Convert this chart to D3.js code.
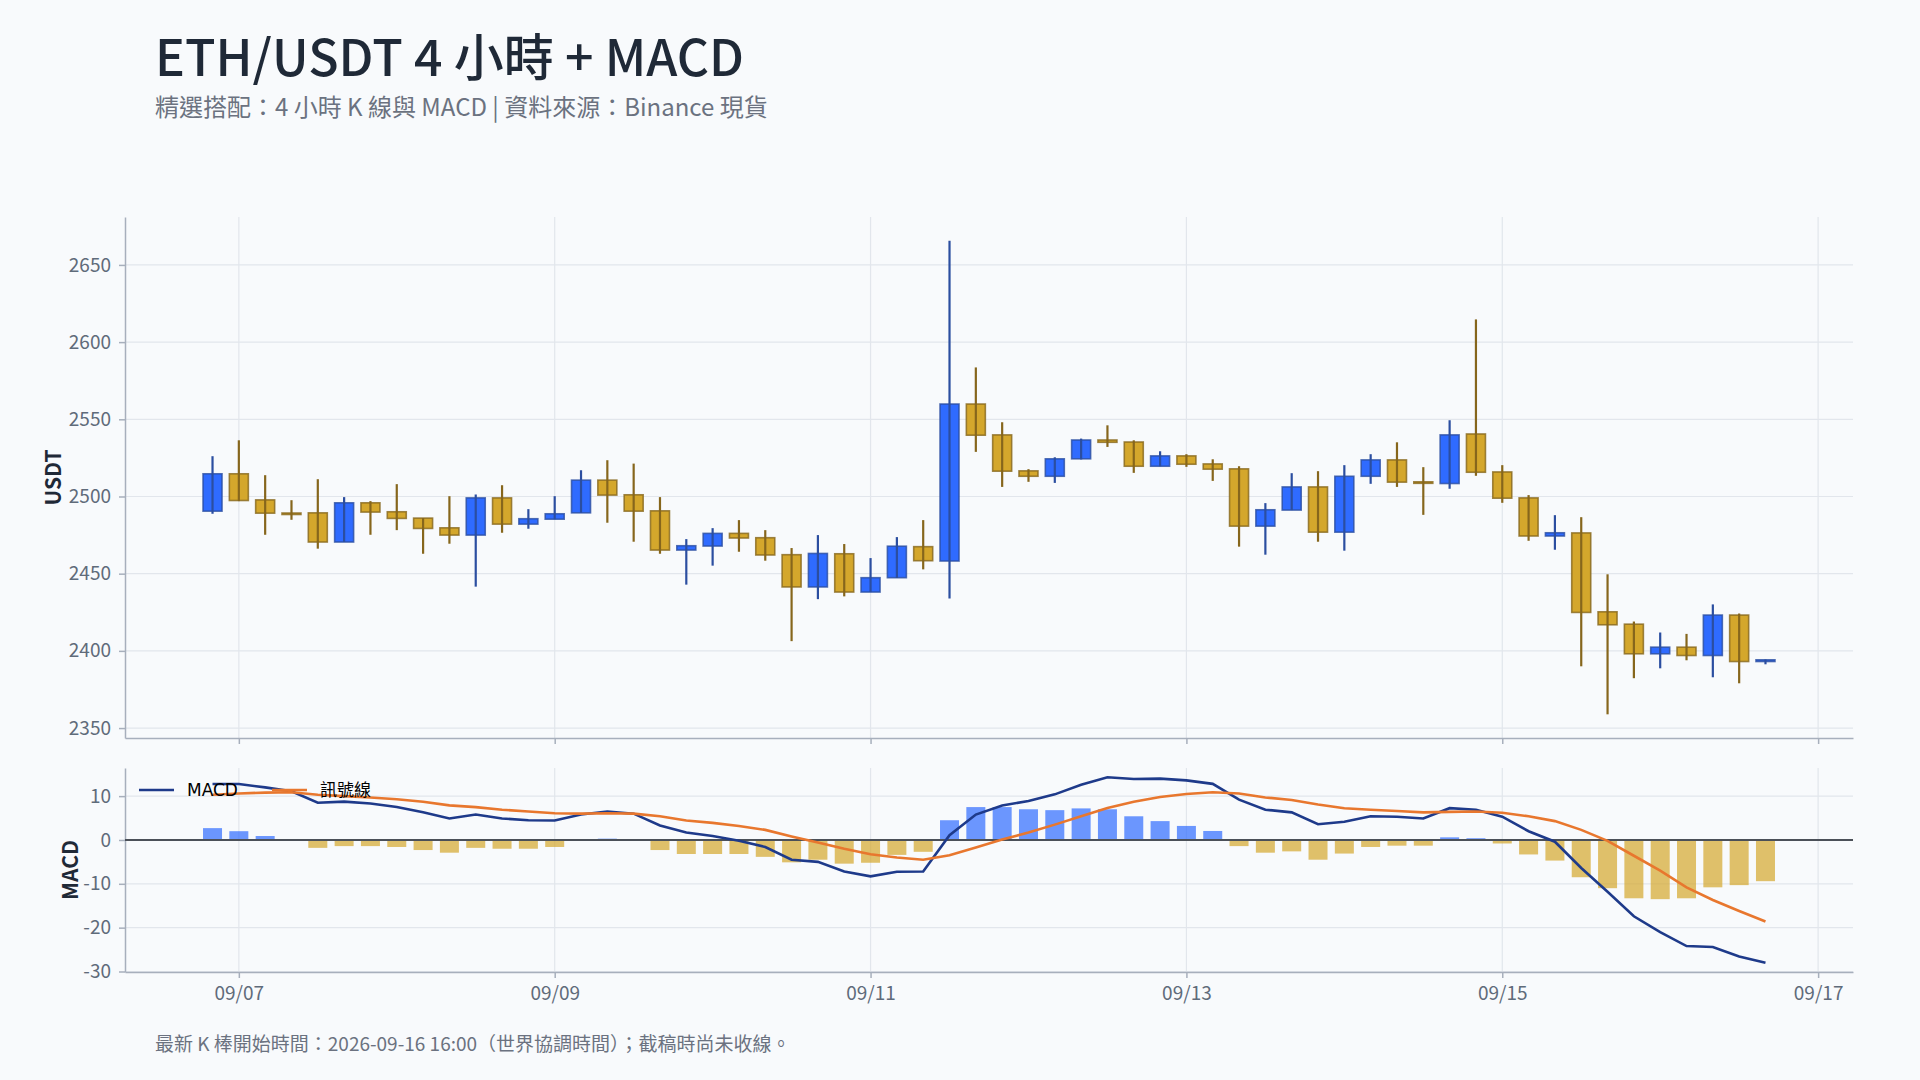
<!DOCTYPE html>
<html><head><meta charset="utf-8">
<script src="https://cdn.jsdelivr.net/npm/d3@7/dist/d3.min.js"></script>
<style>
html,body{margin:0;padding:0;background:#f8fafc;}
svg{display:block;font-family:"Noto Sans CJK TC","Noto Sans",sans-serif;}
</style></head><body>
<svg id="chart" width="1920" height="1080"></svg>
<script>
const times = [
"2026-09-06T20:00Z",
"2026-09-07T00:00Z","2026-09-07T04:00Z","2026-09-07T08:00Z","2026-09-07T12:00Z","2026-09-07T16:00Z","2026-09-07T20:00Z",
"2026-09-08T00:00Z","2026-09-08T04:00Z","2026-09-08T08:00Z","2026-09-08T12:00Z","2026-09-08T16:00Z","2026-09-08T20:00Z",
"2026-09-09T00:00Z","2026-09-09T04:00Z","2026-09-09T08:00Z","2026-09-09T12:00Z","2026-09-09T16:00Z","2026-09-09T20:00Z",
"2026-09-10T00:00Z","2026-09-10T04:00Z","2026-09-10T08:00Z","2026-09-10T12:00Z","2026-09-10T16:00Z","2026-09-10T20:00Z",
"2026-09-11T00:00Z","2026-09-11T04:00Z","2026-09-11T08:00Z","2026-09-11T12:00Z","2026-09-11T16:00Z","2026-09-11T20:00Z",
"2026-09-12T00:00Z","2026-09-12T04:00Z","2026-09-12T08:00Z","2026-09-12T12:00Z","2026-09-12T16:00Z","2026-09-12T20:00Z",
"2026-09-13T00:00Z","2026-09-13T04:00Z","2026-09-13T08:00Z","2026-09-13T12:00Z","2026-09-13T16:00Z","2026-09-13T20:00Z",
"2026-09-14T00:00Z","2026-09-14T04:00Z","2026-09-14T08:00Z","2026-09-14T12:00Z","2026-09-14T16:00Z","2026-09-14T20:00Z",
"2026-09-15T00:00Z","2026-09-15T04:00Z","2026-09-15T08:00Z","2026-09-15T12:00Z","2026-09-15T16:00Z","2026-09-15T20:00Z",
"2026-09-16T00:00Z","2026-09-16T04:00Z","2026-09-16T08:00Z","2026-09-16T12:00Z","2026-09-16T16:00Z"
];
const opens = [2490.5,2514.7,2497.8,2489.3,2489.4,2470.5,2495.9,2490.1,2486.0,2479.7,
2475.0,2499.1,2482.1,2485.3,2489.4,2510.6,2501.1,2490.7,2465.3,2467.9,
2476.1,2473.3,2462.3,2441.4,2462.9,2438.1,2447.4,2467.5,2458.2,2559.9,
2539.9,2516.6,2513.1,2524.4,2536.6,2535.3,2519.6,2526.3,2521.1,2517.9,
2480.8,2491.2,2506.2,2476.9,2513.1,2523.7,2509.5,2508.4,2540.5,2515.9,
2499.1,2474.4,2476.4,2425.3,2417.3,2398.1,2402.4,2397.0,2423.2,2393.1];
const highs = [2526.1,2536.4,2513.8,2497.6,2511.2,2499.6,2497.0,2508.0,2486.0,2500.2,
2501.3,2507.3,2491.8,2500.2,2517.0,2523.5,2521.3,2499.6,2472.4,2479.5,
2484.7,2478.2,2466.6,2475.0,2469.2,2460.1,2473.7,2484.7,2665.7,2583.6,
2548.1,2517.7,2525.4,2537.5,2546.1,2536.4,2529.3,2527.4,2524.1,2519.6,
2495.7,2515.1,2516.4,2520.3,2527.4,2535.1,2519.0,2549.4,2614.7,2520.3,
2500.9,2487.9,2486.6,2449.6,2419.0,2411.9,2411.0,2430.1,2424.2,2394.4];
const lows = [2488.8,2497.0,2475.2,2484.9,2466.2,2470.5,2475.2,2478.2,2462.9,2469.4,
2441.6,2476.5,2479.1,2485.3,2489.4,2483.0,2470.7,2462.9,2442.9,2455.2,
2464.2,2458.4,2406.3,2433.5,2435.3,2438.1,2447.2,2452.8,2434.0,2528.9,
2506.2,2509.5,2508.8,2524.0,2532.1,2515.3,2519.6,2519.2,2510.1,2467.5,
2462.3,2491.2,2470.7,2464.9,2508.2,2506.2,2488.1,2505.0,2513.4,2495.9,
2471.3,2465.5,2390.0,2358.9,2382.3,2388.7,2393.9,2382.9,2379.0,2391.3];
const closes = [2514.7,2497.4,2489.2,2489.0,2470.5,2495.9,2489.9,2485.8,2479.3,2475.0,
2499.1,2482.1,2485.6,2488.8,2510.6,2500.9,2490.5,2465.3,2468.1,2476.1,
2473.1,2462.1,2441.4,2463.1,2438.1,2447.4,2467.8,2458.4,2559.9,2539.7,
2516.4,2513.1,2524.4,2536.6,2535.1,2519.6,2526.3,2520.9,2517.7,2480.8,
2491.4,2506.2,2476.9,2513.1,2523.7,2509.3,2508.7,2539.9,2515.7,2498.9,
2474.4,2476.5,2424.9,2416.9,2398.1,2402.4,2397.0,2423.2,2393.1,2394.2];
const macdLine = [12.75,12.75,12.0,11.1,8.5,8.75,8.3,7.5,6.3,4.9,
5.8,4.9,4.5,4.45,5.8,6.5,6.0,3.3,1.7,0.9,
-0.2,-1.6,-4.5,-5.0,-7.2,-8.3,-7.25,-7.2,1.1,5.8,
7.85,8.9,10.4,12.6,14.3,13.9,14.0,13.6,12.8,9.2,
6.9,6.3,3.6,4.15,5.4,5.3,4.9,7.25,6.9,5.3,
2.0,-0.4,-6.4,-11.8,-17.4,-21.0,-24.2,-24.4,-26.6,-28.0];
const signalLine = [10.3,10.6,10.8,10.9,10.3,10.0,9.7,9.3,8.7,7.9,
7.5,6.9,6.5,6.1,6.0,6.1,6.0,5.4,4.45,3.9,
3.2,2.3,0.8,-0.6,-2.0,-3.25,-4.0,-4.5,-3.5,-1.7,
0.1,1.7,3.5,5.4,7.3,8.7,9.8,10.5,10.9,10.6,
9.7,9.1,8.1,7.25,6.9,6.6,6.3,6.4,6.5,6.2,
5.4,4.3,2.3,-0.2,-3.6,-7.0,-10.8,-13.7,-16.2,-18.6];
const histogram = [2.7,2.0,0.9,0.1,-1.8,-1.4,-1.4,-1.6,-2.3,-2.9,
-1.8,-2.0,-2.0,-1.6,-0.1,0.3,0.0,-2.3,-3.2,-3.2,
-3.2,-3.85,-5.1,-4.5,-5.4,-5.2,-3.4,-2.7,4.5,7.5,
7.5,7.0,6.8,7.2,7.0,5.4,4.3,3.2,2.05,-1.4,
-2.9,-2.6,-4.5,-3.1,-1.6,-1.3,-1.3,0.6,0.4,-0.8,
-3.3,-4.7,-8.5,-11.0,-13.3,-13.5,-13.3,-10.8,-10.3,-9.4];
const xTickDates = ["2026-09-07T00:00Z","2026-09-09T00:00Z","2026-09-11T00:00Z","2026-09-13T00:00Z","2026-09-15T00:00Z","2026-09-17T00:00Z"];
const priceTicks = [2350,2400,2450,2500,2550,2600,2650];
const macdTicks = [-30,-20,-10,0,10];
const legendLabels = ["MACD","訊號線"];
const titleText = "ETH/USDT 4 小時 + MACD";
const subtitleText = "精選搭配：4 小時 K 線與 MACD | 資料來源：Binance 現貨";
const footerText = "最新 K 棒開始時間：2026-09-16 16:00（世界協調時間）；截稿時尚未收線。";

const svg = d3.select("#chart");
const W = 1920, H = 1080;
svg.append("rect").attr("width",W).attr("height",H).attr("fill","#f8fafc");

const L = 125, R = 1853;
const pTop = 217, pBot = 738, mTop = 768, mBot = 972;

const T = times.map(s => new Date(s));
const padMs = 13.3*3600*1000;
const x = d3.scaleUtc().domain([new Date(+T[0]-padMs), new Date(+T[T.length-1]+padMs)]).range([L,R]);

const pMin = d3.min(lows), pMax = d3.max(highs), pPad = (pMax-pMin)*0.05;
const yP = d3.scaleLinear().domain([pMin-pPad, pMax+pPad]).range([pBot,pTop]);
const allM = macdLine.concat(signalLine, histogram);
const mMin = d3.min(allM), mMax = d3.max(allM), mPad = (mMax-mMin)*0.05;
const yM = d3.scaleLinear().domain([mMin-mPad, mMax+mPad]).range([mBot,mTop]);

const xTicks = xTickDates.map(s => new Date(s));
const gridC = "#e2e6ec", axisC = "#a7afbc", tickTextC = "#5f6b7a";
const numFmt = v => String(v);

function grid(yScale, ticks, top, bot){
  const g = svg.append("g");
  g.selectAll(".h").data(ticks).join("line")
    .attr("x1",L).attr("x2",R).attr("y1",d=>yScale(d)).attr("y2",d=>yScale(d))
    .attr("stroke",gridC).attr("stroke-width",1.2);
  g.selectAll(".v").data(xTicks).join("line")
    .attr("x1",d=>x(d)).attr("x2",d=>x(d)).attr("y1",top).attr("y2",bot)
    .attr("stroke",gridC).attr("stroke-width",1.2);
}
grid(yP, priceTicks, pTop, pBot);
grid(yM, macdTicks, mTop, mBot);

function styleAxis(g){
  g.select(".domain").attr("stroke",axisC).attr("stroke-width",1.5);
  g.selectAll(".tick line").attr("stroke",axisC).attr("stroke-width",1.5);
  g.selectAll(".tick text").attr("fill",tickTextC).style("font-size","19px")
    .style("font-family",'"Noto Sans CJK TC","Noto Sans",sans-serif');
}
// price axes
svg.append("g").attr("transform",`translate(${L},0)`)
  .call(d3.axisLeft(yP).tickValues(priceTicks).tickFormat(numFmt).tickSize(6).tickPadding(8).tickSizeOuter(0))
  .call(styleAxis);
svg.append("g").attr("transform",`translate(0,${pBot})`)
  .call(d3.axisBottom(x).tickValues(xTicks).tickSize(6).tickFormat("").tickSizeOuter(0))
  .call(styleAxis);
// macd axes
svg.append("g").attr("transform",`translate(${L},0)`)
  .call(d3.axisLeft(yM).tickValues(macdTicks).tickFormat(numFmt).tickSize(6).tickPadding(8).tickSizeOuter(0))
  .call(styleAxis);
svg.append("g").attr("transform",`translate(0,${mBot})`)
  .call(d3.axisBottom(x).tickValues(xTicks).tickSize(6).tickPadding(9).tickFormat(d3.utcFormat("%m/%d")).tickSizeOuter(0))
  .call(styleAxis);

// candles
const candles = T.map((t,i)=>({t, o:opens[i], h:highs[i], l:lows[i], c:closes[i]}));
const bw = 19;
const upFill = "#2f6bff", upLine = "#2b4ea0", dnFill = "#d4a72c", dnLine = "#86661c";
const cg = svg.append("g");
cg.selectAll("rect").data(candles).join("rect")
  .attr("x",d=>x(d.t)-bw/2).attr("width",bw)
  .attr("y",d=>yP(Math.max(d.o,d.c)))
  .attr("height",d=>Math.max(Math.abs(yP(d.o)-yP(d.c)),1.5))
  .attr("fill",d=>d.c>=d.o?upFill:dnFill)
  .attr("stroke",d=>d.c>=d.o?upLine:dnLine).attr("stroke-opacity",0.8).attr("stroke-width",1.6);
cg.selectAll("line").data(candles).join("line")
  .attr("x1",d=>x(d.t)).attr("x2",d=>x(d.t))
  .attr("y1",d=>yP(d.h)).attr("y2",d=>yP(d.l))
  .attr("stroke",d=>d.c>=d.o?upLine:dnLine).attr("stroke-width",2.2);

// histogram
const hd = T.map((t,i)=>({t, v:histogram[i]}));
svg.append("g").selectAll("rect").data(hd).join("rect")
  .attr("x",d=>x(d.t)-bw/2).attr("width",bw)
  .attr("y",d=>yM(Math.max(0,d.v))).attr("height",d=>Math.abs(yM(d.v)-yM(0)))
  .attr("fill",d=>d.v>=0?"#2f6bff":"#d4a72c").attr("fill-opacity",0.7);
// zero line
svg.append("line").attr("x1",L).attr("x2",R).attr("y1",yM(0)).attr("y2",yM(0))
  .attr("stroke","#4b5058").attr("stroke-width",2);

const lineGen = d3.line().x(d=>x(d.t)).y(d=>yM(d.v));
svg.append("path").datum(T.map((t,i)=>({t,v:macdLine[i]})))
  .attr("d",lineGen).attr("fill","none").attr("stroke","#1e3a8a").attr("stroke-width",2.6);
svg.append("path").datum(T.map((t,i)=>({t,v:signalLine[i]})))
  .attr("d",lineGen).attr("fill","none").attr("stroke","#e8772e").attr("stroke-width",2.6);

// legend
const lg = svg.append("g");
const legendItems = [{x:139, c:"#1e3a8a", label:legendLabels[0]},{x:272, c:"#e8772e", label:legendLabels[1]}];
legendItems.forEach(it=>{
  lg.append("line").attr("x1",it.x).attr("x2",it.x+35).attr("y1",790).attr("y2",790)
    .attr("stroke",it.c).attr("stroke-width",2.6);
  lg.append("text").attr("x",it.x+48).attr("y",796).text(it.label)
    .attr("fill","#000").style("font-size","17px")
    .style("font-family",'"DejaVu Sans","Noto Sans CJK TC",sans-serif');
});

// axis titles
svg.append("text").attr("transform",`translate(61,${(pTop+pBot)/2}) rotate(-90)`)
  .attr("text-anchor","middle").text("USDT").attr("fill","#1f2937")
  .style("font-size","21px").style("font-weight","700");
svg.append("text").attr("transform",`translate(78,${(mTop+mBot)/2}) rotate(-90)`)
  .attr("text-anchor","middle").text("MACD").attr("fill","#1f2937")
  .style("font-size","21px").style("font-weight","700");

// titles
svg.append("text").attr("x",155).attr("y",76).text(titleText)
  .attr("fill","#1f2937").style("font-size","50px").style("font-weight","500");
svg.append("text").attr("x",155).attr("y",116).text(subtitleText)
  .attr("fill","#6b7280").style("font-size","24px");
svg.append("text").attr("x",155).attr("y",1051).text(footerText)
  .attr("fill","#6b7280").style("font-size","19px");
</script>
</body></html>
